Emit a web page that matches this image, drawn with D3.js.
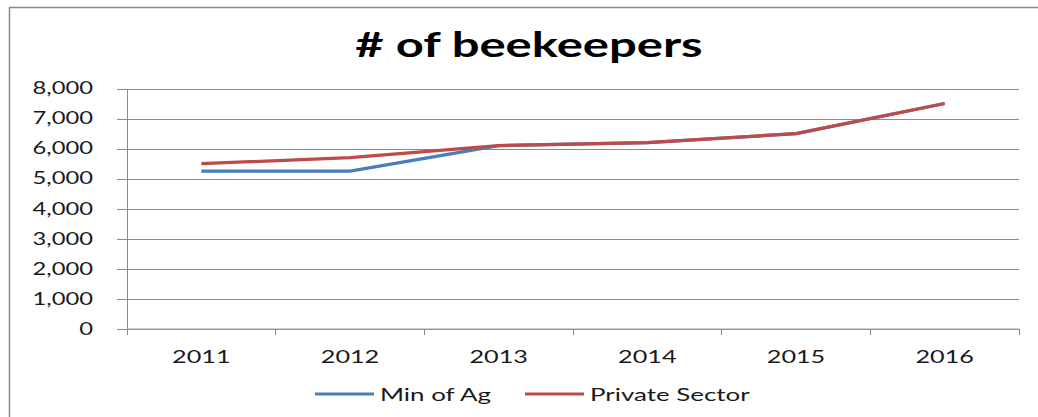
<!DOCTYPE html>
<html>
<head>
<meta charset="utf-8">
<script src="https://cdn.jsdelivr.net/npm/d3@7"></script>
<style>
  body { margin: 0; background: #fff; }
  text { font-family: Lato, "Open Sans", sans-serif; fill: #1a1a1a; }
</style>
</head>
<body>
<svg width="1038" height="417"></svg>
<script>
"use strict";
// data
var years = ["2011", "2012", "2013", "2014", "2015", "2016"];
var minOfAg = [5250, 5250, 6100, 6200, 6500, 7500];
var privateSector = [5500, 5700, 6100, 6200, 6500, 7500];
var yTicks = [0, 1000, 2000, 3000, 4000, 5000, 6000, 7000, 8000];
var seriesNames = ["Min of Ag", "Private Sector"];
var seriesColors = ["#4a7ebb", "#be4b48"];

var svg = d3.select("svg");

//plot area
const plotLeft = 127, plotRight = 1019, plotTop = 88.5, plotBottom = 329;
//the reference text is drawn wider than the font
const wide = 1.44;

var x = d3.scaleBand().domain(years).range([plotLeft, plotRight]);
var y = d3.scaleLinear().domain([0, 8000]).range([plotBottom, plotTop]);

function stretch(sel, f) {
  sel.each(function() {
    var w = this.getComputedTextLength();
    d3.select(this).attr("textLength", w * f).attr("lengthAdjust", "spacingAndGlyphs");
  });
}

//outer frame (left and top edge only visible)
svg.append("path")
  .attr("d", "M9.5,417 V7.5 H1038")
  .attr("fill", "none")
  .attr("stroke", "#8c8c8c")
  .attr("stroke-width", 1.5);

//title
svg.append("text")
  .attr("x", 529).attr("y", 57)
  .attr("text-anchor", "middle")
  .attr("font-size", 34).attr("font-weight", "bold")
  .style("fill", "#000")
  .text("# of beekeepers")
  .call(stretch, wide);

//gridlines + y ticks
var yAxis = d3.axisLeft(y).tickValues(yTicks).tickSize(-(plotRight - plotLeft) - 10)
  .tickFormat(d3.format(","));
var gy = svg.append("g").attr("transform", "translate(" + (plotLeft - 10) + ",0)").call(yAxis);
gy.select(".domain").remove();
gy.selectAll(".tick line").attr("stroke", "#8a8a8a").attr("shape-rendering", "crispEdges");
gy.selectAll(".tick text").attr("x", -24).attr("font-size", 16.5)
  .attr("font-family", "Lato, sans-serif").style("fill", "#1a1a1a")
  .call(stretch, wide);

//y axis line
svg.append("line")
  .attr("x1", plotLeft).attr("x2", plotLeft).attr("y1", plotTop).attr("y2", plotBottom)
  .attr("stroke", "#8a8a8a").attr("shape-rendering", "crispEdges");

//x axis
var xAxis = d3.axisBottom(x).tickSize(0).tickPadding(22);
var gx = svg.append("g").attr("transform", "translate(0," + plotBottom + ")").call(xAxis);
gx.select(".domain").attr("stroke", "#a0a0a0").attr("d", "M" + plotLeft + ",0H" + plotRight);
gx.selectAll(".tick text").attr("font-size", 17.5)
  .attr("font-family", "Lato, sans-serif").style("fill", "#1a1a1a")
  .call(stretch, wide);

//category boundary ticks
svg.append("g").selectAll("line")
  .data(years.concat(["end"]))
  .join("line")
  .attr("x1", (d, i) => plotLeft + i * x.bandwidth())
  .attr("x2", (d, i) => plotLeft + i * x.bandwidth())
  .attr("y1", plotBottom).attr("y2", plotBottom + 6)
  .attr("stroke", "#8a8a8a").attr("shape-rendering", "crispEdges");

//lines
var line = d3.line()
  .x((d, i) => x(years[i]) + x.bandwidth() / 2)
  .y(d => y(d));

[minOfAg, privateSector].forEach(function(s, k) {
  svg.append("path")
    .datum(s)
    .attr("d", line)
    .attr("fill", "none")
    .attr("stroke", seriesColors[k])
    .attr("stroke-width", 3.2)
    .attr("stroke-linejoin", "round");
});

//legend
var legendX = [315, 525];
var lg = svg.append("g").selectAll("g").data(seriesNames).join("g")
  .attr("transform", (d, i) => "translate(" + legendX[i] + ",394)");
lg.append("line")
  .attr("x1", 0).attr("x2", 59)
  .attr("stroke", (d, i) => seriesColors[i]).attr("stroke-width", 3.2);
lg.append("text")
  .attr("x", 65).attr("y", 6.5)
  .attr("font-size", 18)
  .text(d => d)
  .call(stretch, wide);
</script>
</body>
</html>
